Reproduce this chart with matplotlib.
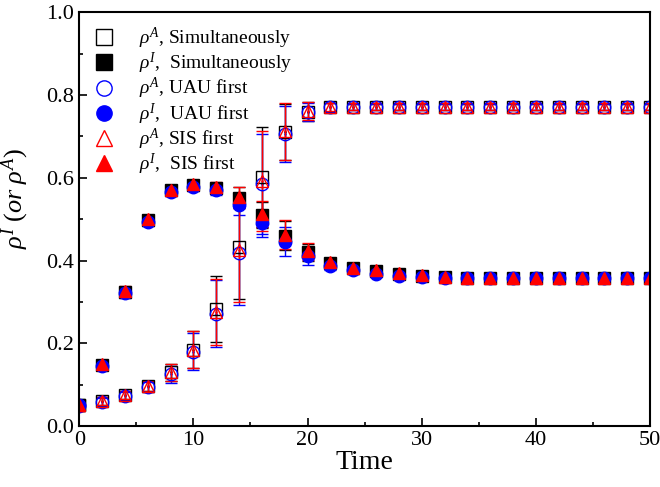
import numpy as np
import matplotlib.pyplot as plt
from matplotlib.lines import Line2D

plt.rcParams['font.family'] = 'Liberation Serif'
plt.rcParams['mathtext.fontset'] = 'custom'
plt.rcParams['mathtext.rm'] = 'Liberation Serif'
plt.rcParams['mathtext.it'] = 'Liberation Serif:italic'

t = np.arange(0, 51, 2)

# rho^A (aware fraction)
A_sim = [0.050, 0.060, 0.075, 0.097, 0.130, 0.185, 0.283, 0.432, 0.602, 0.710, 0.760, 0.770, 0.771,
         0.771, 0.771, 0.771, 0.771, 0.771, 0.771, 0.771, 0.771, 0.771, 0.771, 0.771, 0.771, 0.771]
A_uau = [0.050, 0.058, 0.072, 0.095, 0.125, 0.180, 0.272, 0.418, 0.585, 0.705, 0.758, 0.770, 0.771,
         0.771, 0.771, 0.771, 0.771, 0.771, 0.771, 0.771, 0.771, 0.771, 0.771, 0.771, 0.771, 0.771]
A_sis = [0.050, 0.060, 0.075, 0.097, 0.130, 0.185, 0.276, 0.425, 0.592, 0.712, 0.762, 0.771, 0.772,
         0.772, 0.772, 0.772, 0.772, 0.772, 0.772, 0.772, 0.772, 0.772, 0.772, 0.772, 0.772, 0.772]
A_err = [0.005, 0.010, 0.010, 0.012, 0.020, 0.045, 0.080, 0.125, 0.120, 0.068, 0.022, 0.010, 0.008,
         0.008, 0.008, 0.008, 0.008, 0.008, 0.008, 0.008, 0.008, 0.008, 0.008, 0.008, 0.008, 0.008]

# rho^I (infected fraction)
I_sim = [0.050, 0.148, 0.325, 0.498, 0.570, 0.582, 0.576, 0.552, 0.510, 0.460, 0.420, 0.395, 0.382,
         0.375, 0.368, 0.363, 0.360, 0.359, 0.358, 0.358, 0.358, 0.358, 0.358, 0.358, 0.358, 0.358]
I_uau = [0.048, 0.145, 0.322, 0.494, 0.566, 0.578, 0.570, 0.535, 0.490, 0.445, 0.410, 0.388, 0.376,
         0.368, 0.362, 0.360, 0.358, 0.357, 0.357, 0.357, 0.357, 0.357, 0.357, 0.357, 0.357, 0.357]
I_sis = [0.052, 0.150, 0.327, 0.500, 0.571, 0.584, 0.577, 0.553, 0.512, 0.462, 0.422, 0.397, 0.383,
         0.376, 0.369, 0.364, 0.361, 0.359, 0.358, 0.358, 0.358, 0.358, 0.358, 0.358, 0.358, 0.358]
I_err = [0.005, 0.010, 0.012, 0.010, 0.010, 0.010, 0.012, 0.025, 0.032, 0.035, 0.020, 0.010, 0.008,
         0.006, 0.006, 0.005, 0.005, 0.005, 0.005, 0.005, 0.005, 0.005, 0.005, 0.005, 0.005, 0.005]

fig = plt.figure(figsize=(6.6, 4.87), dpi=100)
ax = fig.add_axes([0.12, 0.125, 0.865, 0.85])

series = [
    (A_sim, A_err, 's', 'black', False, r'$\rho^A$, Simultaneously'),
    (I_sim, I_err, 's', 'black', True, r'$\rho^I$,  Simultaneously'),
    (A_uau, A_err, 'o', 'blue', False, r'$\rho^A$, UAU first'),
    (I_uau, I_err, 'o', 'blue', True, r'$\rho^I$,  UAU first'),
    (A_sis, A_err, '^', 'red', False, r'$\rho^A$, SIS first'),
    (I_sis, I_err, '^', 'red', True, r'$\rho^I$,  SIS first'),
]

handles = []
for y, e, m, c, filled, lab in series:
    ax.errorbar(t, y, yerr=e, fmt=m, ms=9, color=c, mec=c,
                mfc=c if filled else 'none', mew=1.0, ecolor=c,
                elinewidth=1.0, capsize=4, capthick=1.0)
    if not filled:
        ax.plot(t, y, '.', ms=1.5, color=c)
    handles.append(Line2D([], [], ls='none', marker=m, ms=11, color=c, mec=c,
                          mfc=c if filled else 'none', mew=1.0, label=lab))

ax.set_xlim(0, 50)
ax.set_ylim(0, 1.0)
ax.set_xticks(np.arange(0, 51, 10))
ax.set_xticks(np.arange(0, 51, 5), minor=True)
ax.set_yticks(np.arange(0, 1.01, 0.2))
ax.set_yticks(np.arange(0, 1.01, 0.1), minor=True)
ax.yaxis.set_major_formatter(plt.FormatStrFormatter('%.1f'))
ax.tick_params(which='both', direction='in', labelsize=16, width=1.2)
ax.tick_params(which='major', length=6)
ax.tick_params(which='minor', length=3)
for s in ax.spines.values():
    s.set_linewidth(1.5)

ax.set_xlabel('Time', fontsize=20, labelpad=0)
ax.set_ylabel(r'$\rho^I\ (or\ \rho^A)$', fontsize=19)
ax.yaxis.set_label_coords(-0.085, 0.55)

ax.legend(handles=handles, loc='upper left', frameon=False, fontsize=14,
          handlelength=1.2, handletextpad=1.2, labelspacing=0.0,
          borderaxespad=0.3, borderpad=0.4)

plt.savefig('out.png', dpi=100)
